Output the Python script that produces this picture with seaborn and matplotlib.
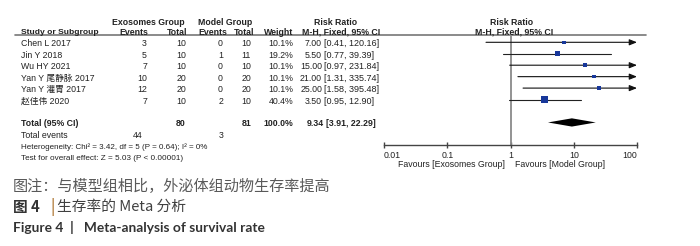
import numpy as np
import pandas as pd
import matplotlib
matplotlib.use("Agg")
import matplotlib.pyplot as plt
import seaborn as sns

# ---- data ----
studies = ["Chen L 2017", "Jin Y 2018", "Wu HY 2021", "Yan Y 尾静脉 2017", "Yan Y 灌胃 2017", "赵佳伟 2020"]
exo_events = [3, 5, 7, 10, 12, 7]
exo_total = [10, 10, 10, 20, 20, 10]
mod_events = [0, 1, 0, 0, 0, 2]
mod_total = [10, 11, 10, 20, 20, 10]
weights = [10.1, 19.2, 10.1, 10.1, 10.1, 40.4]
rr = [7.00, 5.50, 15.00, 21.00, 25.00, 3.50]
ci_low = [0.41, 0.77, 0.97, 1.31, 1.58, 0.95]
ci_high = [120.16, 39.39, 231.84, 335.74, 395.48, 12.90]

total_exo, total_mod = 80, 81
total_events_exo, total_events_mod = 44, 3
pooled_rr, pooled_low, pooled_high = 9.34, 3.91, 22.29
heterogeneity = "Heterogeneity: Chi² = 3.42, df = 5 (P = 0.64); I² = 0%"
overall = "Test for overall effect: Z = 5.03 (P < 0.00001)"
axis_ticks = [0.01, 0.1, 1, 10, 100]
axis_ticklabels = ["0.01", "0.1", "1", "10", "100"]

caption_note = "图注：与模型组相比，外泌体组动物生存率提高"
caption_cn_num = "图 4"
caption_cn = "生存率的 Meta 分析"
caption_en = "Figure 4  |   Meta-analysis of survival rate"

df = pd.DataFrame({"study": studies, "rr": rr, "lo": ci_low, "hi": ci_high,
                   "weight": weights, "row": np.arange(len(studies))})

# ---- layout helpers (pixels of a 700x246 canvas) ----
W, H = 700, 246
ROW0, STEP = 42.3, 11.45          # pixel y of first study row, row spacing
def row_px(r):
    return ROW0 + STEP * r

sns.set_style("white")
plt.rcParams["font.family"] = ["Liberation Sans", "Noto Sans CJK SC", "DejaVu Sans"]
FS = 6.3
TXT = "#222222"

fig = plt.figure(figsize=(W / 100, H / 100), dpi=100)

# table layer: full-figure axes in pixel coordinates
tab = fig.add_axes([0, 0, 1, 1])
tab.set_xlim(0, W)
tab.set_ylim(H, 0)
tab.axis("off")

def t(x, y, s, ha="left", bold=False, fs=FS, **kw):
    tab.text(x, y, s, ha=ha, va="center", fontsize=fs, color=TXT,
             fontweight="bold" if bold else "normal", **kw)

# headers
t(148, 22.5, "Exosomes Group", ha="center", bold=True)
t(225, 22.5, "Model Group", ha="center", bold=True)
t(336, 22.5, "Risk Ratio", ha="center", bold=True)
t(512, 22.5, "Risk Ratio", ha="center", bold=True)
hy = 32.2
t(21, hy, "Study or Subgroup", bold=True, fs=6.1)
t(148, hy, "Events", ha="right", bold=True)
t(187, hy, "Total", ha="right", bold=True)
t(227, hy, "Events", ha="right", bold=True)
t(254, hy, "Total", ha="right", bold=True)
t(293, hy, "Weight", ha="right", bold=True)
t(341, hy, "M-H, Fixed, 95% CI", ha="center", bold=True)
t(514, hy, "M-H, Fixed, 95% CI", ha="center", bold=True)
tab.plot([15, 646], [35, 35], color="#777777", lw=1.2)

# study rows
for i in range(len(studies)):
    y = row_px(i) + 1.5
    t(21, y, studies[i])
    t(147, y, str(exo_events[i]), ha="right")
    t(186, y, str(exo_total[i]), ha="right")
    t(223, y, str(mod_events[i]), ha="right")
    t(251, y, str(mod_total[i]), ha="right")
    t(293, y, f"{weights[i]:.1f}%", ha="right")
    t(322, y, f"{rr[i]:.2f}", ha="right")
    t(324, y, f"[{ci_low[i]:.2f}, {ci_high[i]:.2f}]", fs=6.5)

# totals
y = row_px(7) + 1.5
t(21, y, "Total (95% CI)", bold=True)
t(186, y, str(total_exo), ha="right", bold=True)
t(251, y, str(total_mod), ha="right", bold=True)
t(293, y, "100.0%", ha="right", bold=True)
t(324, y, f"{pooled_rr:.2f}", ha="right", bold=True)
t(326, y, f"[{pooled_low:.2f}, {pooled_high:.2f}]", bold=True)
y = row_px(8) + 1.5
t(21, y, "Total events")
t(143, y, str(total_events_exo), ha="right")
t(224, y, str(total_events_mod), ha="right")
t(21, row_px(9) + 1.5, heterogeneity, fs=5.8)
t(21, row_px(10) + 1.5, overall, fs=5.9)

# ---- forest plot axes ----
x0, x1 = 384, 637
top, bot = 35, 145
ax = fig.add_axes([x0 / W, 1 - bot / H, (x1 - x0) / W, (bot - top) / H])
ax.set_xscale("log")
ax.set_xlim(0.01, 100)
ax.set_ylim((bot - ROW0) / STEP, (top - ROW0) / STEP)
ax.patch.set_alpha(0)

ax.axvline(1, color="#8a8a8a", lw=1.3, zorder=1)

xmax = axis_ticks[-1]
for _, r in df.iterrows():
    if r.hi > xmax:
        ax.annotate("", xy=(xmax, r.row), xytext=(r.lo, r.row),
                    arrowprops=dict(arrowstyle="-|>,head_length=0.45,head_width=0.18",
                                    color="#111111", lw=0.8, shrinkA=0, shrinkB=0))
    else:
        ax.plot([r.lo, r.hi], [r.row, r.row], color="#222222", lw=0.8)

sns.scatterplot(data=df, x="rr", y="row", size="weight",
                sizes=(min(weights) * 0.63, max(weights) * 0.63),
                size_norm=(min(weights), max(weights)),
                marker="s", color="#17379a", edgecolor="none",
                legend=False, ax=ax, zorder=3)

# pooled diamond
ry = 7
ax.fill([pooled_low, pooled_rr, pooled_high, pooled_rr],
        [ry, ry - 0.36, ry, ry + 0.36], color="black", lw=0)

ax.set_xticks(axis_ticks)
ax.set_xticklabels(axis_ticklabels)
ax.minorticks_off()
ax.set_yticks([])
ax.set_xlabel("")
ax.set_ylabel("")
for s in ["top", "left", "right"]:
    ax.spines[s].set_visible(False)
ax.spines["bottom"].set_color("#444444")
ax.spines["bottom"].set_linewidth(1.0)
ax.tick_params(axis="x", direction="inout", length=5, width=1.0,
               color="#444444", labelsize=FS, labelcolor=TXT, pad=1.5, bottom=True)
labels = ax.get_xticklabels()
labels[0].set_horizontalalignment("left")
labels[-1].set_horizontalalignment("right")

t(505, 164.5, "Favours [Exosomes Group]", ha="right")
t(515, 164.5, "Favours [Model Group]")

# ---- captions ----
cjk = ["Noto Sans CJK SC", "DejaVu Sans"]
fig.text(13 / W, 1 - 186 / H, caption_note, fontsize=10.9, color="#595959",
         family=cjk, va="center", ha="left")
fig.text(13 / W, 1 - 207 / H, caption_cn_num, fontsize=10.6, color="#333333",
         family=cjk, fontweight="bold", va="center", ha="left")
fig.text(51 / W, 1 - 207 / H, "|", fontsize=10.6, color="#b8864b",
         family=cjk, fontweight="bold", va="center", ha="left")
fig.text(57 / W, 1 - 207 / H, caption_cn, fontsize=10.6, color="#404040",
         family=cjk, va="center", ha="left")
fig.text(13 / W, 1 - 227 / H, caption_en, fontsize=9.9, color="#333333",
         family=["Lato", "DejaVu Sans"], fontweight="bold", va="center", ha="left")

fig.savefig("out.png", dpi=100)
